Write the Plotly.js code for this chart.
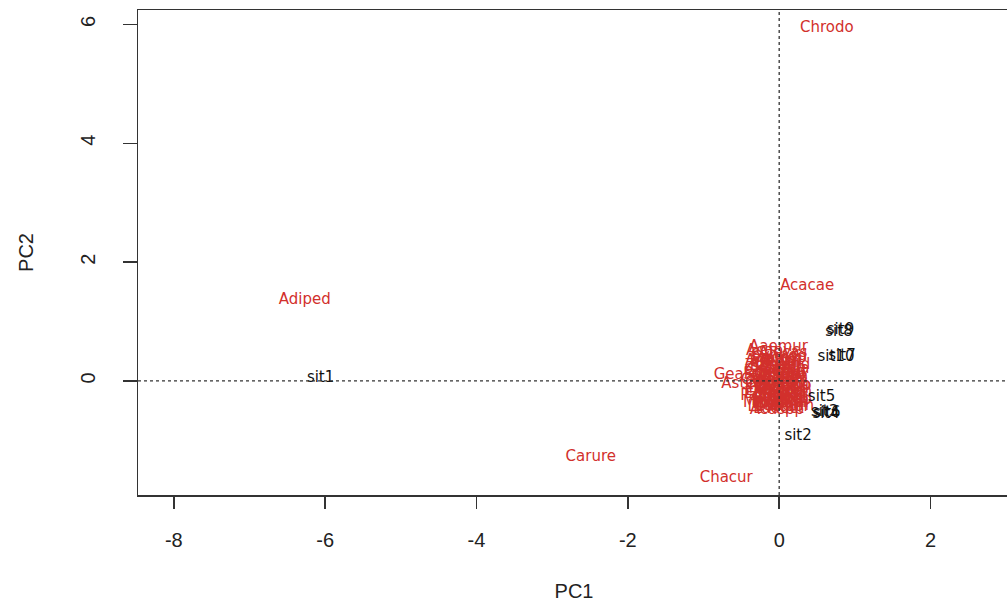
<!DOCTYPE html>
<html>
<head>
<meta charset="utf-8">
<script src="https://cdn.plot.ly/plotly-3.0.1.min.js"></script>
<style>
html,body{margin:0;padding:0;background:#fff;overflow:hidden;}
#chart{width:1010px;height:602px;}
</style>
</head>
<body>
<div id="chart"></div>
<script>
// Site scores (black labels)
const siteNames = ["sit1","sit2","sit3","sit4","sit5","sit6","sit7","sit8","sit9","sit10"];
const sitePC1 = [-6.06, 0.25, 0.60, 0.62, 0.56, 0.63, 0.83, 0.79, 0.81, 0.75];
const sitePC2 = [0.05, -0.93, -0.52, -0.56, -0.27, -0.54, 0.42, 0.82, 0.85, 0.40];

// Species scores (red labels)
const speciesNames = [
  "Chrodo","Acacae","Adiped","Carure","Chacur",
  "Aaemur","Coccap","Geaspp","Astcor","Acaspp",
  "Acapyc","Alecas","Aneiba","Bidpil","Boecyl",
  "Brapla","Casequ","Cenasi","Cisspp","Cleret",
  "Comben","Cyndac","Cyprot","Desspp","Digcil",
  "Eleind","Embrob","Eraspp","Eupspp","Ficwhi",
  "Glyspp","Helpop","Hibtil","Impwal","Ipocai",
  "Lancam","Leuleu","Ludoct","Melpol","Mimpud",
  "Oxacor","Panmax","Paspan","Phyami","Pipadu",
  "Poamil","Psigua","Rubspp","Sidrho","Solame",
  "Spoind","Stetro","Synnod","Tripro","Urelob",
  "Vercin","Wedtri","Xanspp","Zinpau","Agecon"
];
const speciesPC1 = [
  0.63, 0.37, -6.27, -2.49, -0.70,
  -0.01, 0.00, -0.49, -0.45, -0.03,
  -0.08, 0.05, -0.11, 0.03, -0.06,
  0.08, -0.10, 0.02, -0.04, 0.07,
  -0.09, 0.01, -0.12, 0.05, -0.05,
  0.09, -0.07, 0.00, -0.10, 0.06,
  -0.02, 0.08, -0.11, 0.03, -0.06,
  0.07, -0.09, -0.01, 0.05, -0.08,
  0.02, -0.12, 0.08, -0.04, 0.01,
  -0.07, 0.06, -0.10, 0.03, -0.02,
  0.07, -0.08, 0.00, -0.05, 0.04,
  0.09, -0.03, 0.06, -0.11, 0.02
];
const speciesPC2 = [
  5.93, 1.60, 1.35, -1.28, -1.63,
  0.57, 0.39, 0.10, -0.05, -0.50,
  0.50, 0.46, 0.33, 0.30, 0.25,
  0.20, 0.17, 0.13, 0.08, 0.05,
  0.02, -0.02, -0.04, -0.08, -0.11,
  -0.14, -0.17, -0.20, -0.23, -0.26,
  -0.29, -0.32, -0.34, -0.37, -0.40,
  -0.43, -0.45, -0.47, -0.44, -0.38,
  -0.31, -0.25, -0.19, -0.12, -0.06,
  0.00, 0.06, 0.11, 0.15, 0.22,
  0.27, 0.36, 0.42, -0.15, 0.10,
  -0.35, 0.31, -0.09, 0.24, -0.28
];

const xTicks = [-8, -6, -4, -2, 0, 2];
const yTicks = [0, 2, 4, 6];

const labelFont = "DejaVu Sans, sans-serif";

const traces = [
  {
    type: "scatter", mode: "text",
    x: speciesPC1, y: speciesPC2, text: speciesNames,
    textposition: "middle center",
    textfont: {family: labelFont, size: 15, color: "#d2302c"},
    hoverinfo: "none", cliponaxis: false
  },
  {
    type: "scatter", mode: "text",
    x: sitePC1, y: sitePC2, text: siteNames,
    textposition: "middle center",
    textfont: {family: labelFont, size: 15, color: "#111111"},
    hoverinfo: "none", cliponaxis: false
  }
];

const axisFont = {family: "Liberation Sans, Arial, sans-serif", size: 20, color: "#222"};

const layout = {
  width: 1010, height: 602,
  margin: {l: 138, r: 0, t: 10, b: 107},
  paper_bgcolor: "#fff", plot_bgcolor: "#fff",
  showlegend: false, hovermode: false,
  xaxis: {
    range: [-8.473, 3.05],
    tickvals: xTicks, ticktext: xTicks.map(String),
    ticks: "outside", ticklen: 12, tickwidth: 1.5, tickcolor: "#333",
    showline: true, linecolor: "#333", linewidth: 1.5, mirror: true,
    showgrid: false, zeroline: false,
    tickfont: axisFont, ticklabelstandoff: 14,
    title: {text: "PC1", font: axisFont, standoff: 34}
  },
  yaxis: {
    range: [-1.92, 6.244],
    tickvals: yTicks, ticktext: yTicks.map(String),
    tickangle: -90,
    ticks: "outside", ticklen: 14, tickwidth: 1.5, tickcolor: "#333",
    showline: true, linecolor: "#333", linewidth: 1.5, mirror: true,
    showgrid: false, zeroline: false,
    tickfont: axisFont, ticklabelstandoff: 20,
    title: {text: "PC2", font: axisFont, standoff: 37}
  },
  shapes: [
    {type: "line", xref: "paper", yref: "y", x0: 0, x1: 1, y0: 0, y1: 0,
     line: {color: "#333", width: 1.3, dash: "dot"}},
    {type: "line", xref: "x", yref: "paper", x0: 0, x1: 0, y0: 0, y1: 1,
     line: {color: "#333", width: 1.3, dash: "dot"}}
  ]
};

Plotly.newPlot("chart", traces, layout, {displayModeBar: false, staticPlot: true});
</script>
</body>
</html>
